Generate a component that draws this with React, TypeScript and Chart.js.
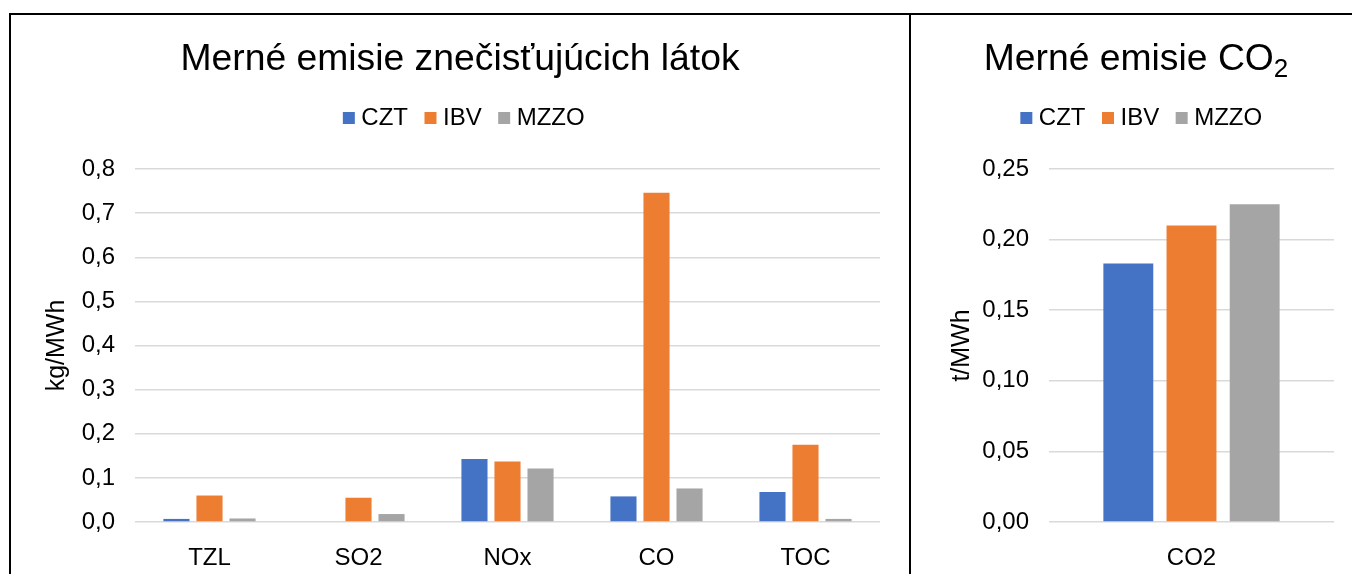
import React, { useEffect, useRef } from 'react';
import { Chart, registerables } from 'chart.js';

Chart.register(...registerables);

const FONT = '"Liberation Sans", Arial, sans-serif';

// ---- data ----
const seriesNames = ['CZT', 'IBV', 'MZZO'];
const seriesColors = ['#4472C4', '#ED7D31', '#A5A5A5'];

const pollutantCategories = ['TZL', 'SO2', 'NOx', 'CO', 'TOC'];
const pollutantCZT = [0.007, 0, 0.143, 0.058, 0.068];
const pollutantIBV = [0.06, 0.055, 0.137, 0.746, 0.175];
const pollutantMZZO = [0.008, 0.018, 0.121, 0.076, 0.007];
const pollutantAxis = { max: 0.8, step: 0.1, decimals: 1, title: 'kg/MWh' };

const co2Categories = ['CO2'];
const co2CZT = [0.183];
const co2IBV = [0.21];
const co2MZZO = [0.225];
const co2Axis = { max: 0.25, step: 0.05, decimals: 2, title: 't/MWh' };

type AxisDef = { max: number; step: number; decimals: number; title: string };

interface BarProps {
  labels: string[];
  values: number[][];
  axis: AxisDef;
  width: number;
  height: number;
  padLeft: number;
  yWidth: number;
  yTitlePad: number;
  padRight: number;
}

function BarChart({ labels, values, axis, width, height, padLeft, yWidth, yTitlePad, padRight }: BarProps) {
  const ref = useRef<HTMLCanvasElement | null>(null);
  useEffect(() => {
    if (!ref.current) return;
    const chart = new Chart(ref.current, {
      type: 'bar',
      data: {
        labels,
        datasets: seriesNames.map((name, i) => ({
          label: name,
          data: values[i],
          backgroundColor: seriesColors[i],
          borderWidth: 0,
          barPercentage: 0.79,
          categoryPercentage: 0.665,
          xAxisID: 'x',
          yAxisID: 'y',
        })),
      },
      options: {
        animation: false,
        responsive: false,
        maintainAspectRatio: false,
        layout: { padding: { top: 69, left: padLeft, right: padRight, bottom: 0 } },
        plugins: {
          legend: {
            position: 'top',
            labels: {
              usePointStyle: true,
              pointStyle: 'rect',
              boxWidth: 1,
              boxHeight: 12,
              padding: 22,
              color: '#000',
              font: { size: 24, family: FONT },
            },
          },
          tooltip: { enabled: false },
          title: { display: false },
        },
        scales: {
          x: {
            type: 'category',
            position: 'bottom',
            grid: { display: false },
            border: { display: false },
            ticks: { color: '#000', font: { size: 24, family: FONT }, padding: 14 },
            afterFit: (s: any) => {
              s.height = 52;
            },
          },
          spacer: {
            type: 'category',
            position: 'top',
            grid: { display: false },
            border: { display: false },
            ticks: { display: false },
            afterFit: (s: any) => {
              s.height = 29;
            },
          },
          y: {
            type: 'linear',
            min: 0,
            max: axis.max,
            ticks: {
              stepSize: axis.step,
              color: '#000',
              font: { size: 24, family: FONT },
              padding: 20,
              callback: (v: any) => Number(v).toFixed(axis.decimals).replace('.', ','),
            },
            grid: { color: '#d9d9d9', lineWidth: 1.5, drawTicks: false },
            border: { display: false },
            title: {
              display: true,
              text: axis.title,
              color: '#000',
              font: { size: 25, family: FONT, lineHeight: 0.5 },
              padding: { top: yTitlePad, bottom: 0 },
            },
            afterFit: (s: any) => {
              s.width = yWidth;
            },
          },
        },
      } as any,
    });
    return () => chart.destroy();
  }, []);
  return <canvas ref={ref} width={width} height={height} style={{ width, height, display: 'block' }} />;
}

const titleStyle: React.CSSProperties = {
  position: 'absolute',
  left: 0,
  top: 24,
  width: '100%',
  boxSizing: 'border-box',
  textAlign: 'center',
  fontFamily: FONT,
  fontSize: 37.3,
  lineHeight: '37px',
  color: '#000',
  whiteSpace: 'nowrap',
};

export default function App() {
  return (
    <div
      style={{
        position: 'fixed',
        left: 9,
        top: 13,
        width: 1343,
        height: 561,
        boxSizing: 'border-box',
        borderTop: '2px solid #000',
        borderLeft: '2px solid #000',
        background: '#fff',
        overflow: 'hidden',
      }}
    >
      <div style={{ position: 'absolute', left: 0, top: 0, width: 898, height: 559 }}>
        <BarChart
          labels={pollutantCategories}
          values={[pollutantCZT, pollutantIBV, pollutantMZZO]}
          axis={pollutantAxis}
          width={898}
          height={559}
          padLeft={42}
          yWidth={82}
          yTitlePad={-2}
          padRight={29}
        />
        <div style={titleStyle}>Merné emisie znečisťujúcich látok</div>
      </div>
      <div style={{ position: 'absolute', left: 898, top: 0, width: 2, height: 559, background: '#000' }} />
      <div style={{ position: 'absolute', left: 900, top: 0, width: 441, height: 559 }}>
        <BarChart
          labels={co2Categories}
          values={[co2CZT, co2IBV, co2MZZO]}
          axis={co2Axis}
          width={441}
          height={559}
          padLeft={43}
          yWidth={95}
          yTitlePad={2}
          padRight={18}
        />
        <div style={{ ...titleStyle, paddingLeft: 9 }}>
          Merné emisie CO
          <span style={{ fontSize: 26, position: 'relative', top: 7 }}>2</span>
        </div>
      </div>
    </div>
  );
}
